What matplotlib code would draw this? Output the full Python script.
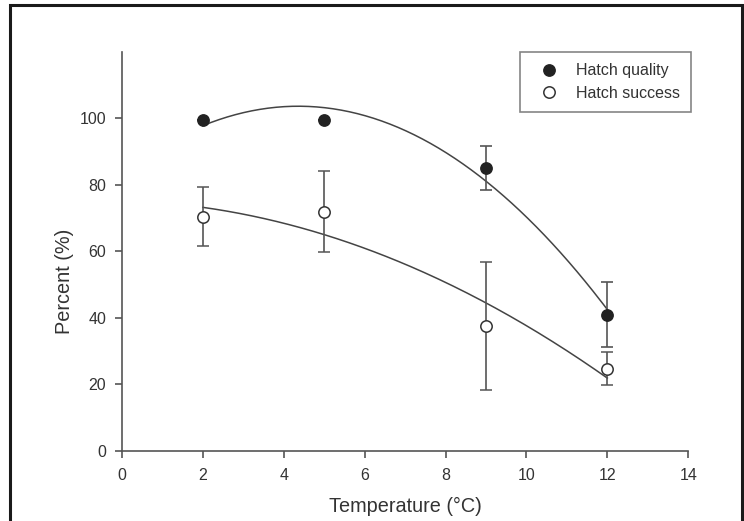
import numpy as np
import matplotlib
matplotlib.use("Agg")
import matplotlib.pyplot as plt
from matplotlib.patches import Rectangle

plt.rcParams['font.family'] = ['Liberation Sans', 'DejaVu Sans']

# data
temps = [2, 5, 9, 12]
quality = [99.4, 99.4, 85.0, 41.0]
quality_err = [0.0, 0.0, 6.6, 9.8]
success = [70.5, 72.0, 37.6, 24.7]
success_err = [9.0, 12.3, 19.3, 5.0]

xticks = [0, 2, 4, 6, 8, 10, 12, 14]
yticks = [0, 20, 40, 60, 80, 100]

grey = '#555555'
txt = '#333333'

fig = plt.figure(figsize=(7.44, 5.21), dpi=100)
ax = fig.add_axes([0.164, 0.1344, 0.761, 0.7658])

# quadratic regression lines through the points
xs = np.linspace(min(temps), max(temps), 200)
pq = np.polyfit(temps, quality, 2)
ps = np.polyfit(temps, success, 2)
ax.plot(xs, np.polyval(pq, xs), color='#444444', lw=1.1, zorder=2)
ax.plot(xs, np.polyval(ps, xs), color='#444444', lw=1.1, zorder=2)

ax.errorbar(temps, success, yerr=success_err, fmt='o', ms=8.2,
            mfc='white', mec='#333333', mew=1.1, ecolor=grey,
            elinewidth=1.2, capsize=4.4, capthick=1.2, zorder=3,
            label='Hatch success')
ax.errorbar(temps, quality, yerr=quality_err, fmt='o', ms=8.2,
            mfc='#222222', mec='#222222', ecolor=grey,
            elinewidth=1.2, capsize=4.4, capthick=1.2, zorder=4,
            label='Hatch quality')

ax.set_xlim(0, 14)
ax.set_ylim(0, 120)
ax.set_xticks(xticks)
ax.set_yticks(yticks)
for s in ['top', 'right']:
    ax.spines[s].set_visible(False)
for s in ['left', 'bottom']:
    ax.spines[s].set_color(grey)
    ax.spines[s].set_linewidth(1.2)
ax.tick_params(direction='out', length=5, width=1.2, color=grey,
               labelsize=11.5, labelcolor=txt)
ax.tick_params(axis='y', pad=6.5)
ax.tick_params(axis='x', pad=7.5)

ax.set_xlabel('Temperature (°C)', fontsize=14.3, color=txt, labelpad=10)
fig.text(64 / 744, 1 - 281 / 521, 'Percent (%)', rotation=90,
         ha='center', va='center', fontsize=14.3, color=txt)

h, l = ax.get_legend_handles_labels()
handles = [hh[0] for hh in h[::-1]]
leg = ax.legend(handles, l[::-1], loc='upper right',
                bbox_to_anchor=(1.005, 1.0), fontsize=11.5,
                frameon=True, fancybox=False, edgecolor='#666666',
                borderpad=0.72, handlelength=2.2, handletextpad=0.55,
                labelspacing=0.45, borderaxespad=0.0)
leg.get_frame().set_linewidth(1.2)
for t in leg.get_texts():
    t.set_color(txt)

# outer frame around the figure (bottom edge falls off the picture)
fig.patches.append(Rectangle((10 / 744, -0.05), 732 / 744, 1.05 - 5 / 521,
                             transform=fig.transFigure, fill=False,
                             edgecolor='#1a1a1a', lw=2.2))

fig.savefig('out.png', dpi=100)
